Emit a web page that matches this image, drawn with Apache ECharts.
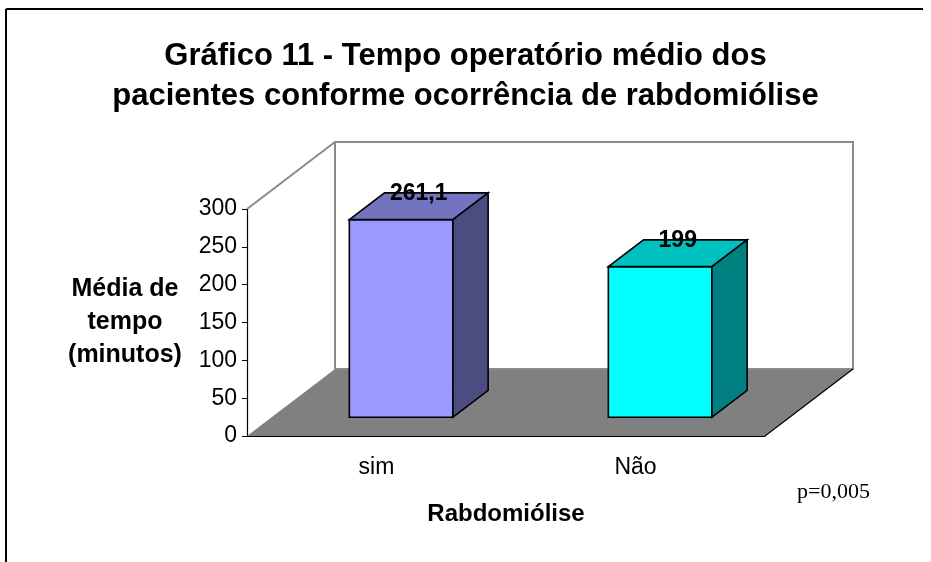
<!DOCTYPE html>
<html>
<head>
<meta charset="utf-8">
<script src="https://cdn.jsdelivr.net/npm/echarts@6/dist/echarts.min.js"></script>
<style>
  html, body { margin: 0; padding: 0; background: #fff; }
  #chart { width: 931px; height: 562px; }
</style>
</head>
<body>
<div id="chart"></div>
<script>
(function(){

  var categories = ['sim', 'Não'];
  var values = [261.1, 199];
  var valueLabels = ['261,1', '199'];
  var yMin = 0, yMax = 300, yStep = 50;

  var frontColors = ['#9999FF', '#00FFFF'];
  var topColors = ['#7373BF', '#00C0C0'];
  var sideColors = ['#4C4C80', '#008080'];

  // depth vector of the fake 3d box (pixels)
  var DX = 88, DY = -67;
  var FONT = 'Liberation Sans, Arial, sans-serif';

  var chart = echarts.init(document.getElementById('chart'));

  function renderWalls(params, api){
    var band = api.size([1, 0])[0];
    var p0 = api.coord([0, yMin]);
    var pTop = api.coord([0, yMax]);
    var l = p0[0] - band / 2, r = l + band * categories.length;
    var yb = p0[1], yt = pTop[1];
    var grey = '#8a8a8a';
    return {
      type: 'group',
      children: [
        { type: 'polygon', shape: { points: [[l, yb], [r, yb], [r + DX, yb + DY], [l + DX, yb + DY]] },
          style: { fill: '#808080', stroke: null } },
        { type: 'polygon', shape: { points: [[l + DX, yb + DY], [r + DX, yb + DY], [r + DX, yt + DY], [l + DX, yt + DY]] },
          style: { fill: 'none', stroke: grey, lineWidth: 2 } },
        { type: 'line', shape: { x1: l, y1: yt, x2: l + DX, y2: yt + DY },
          style: { stroke: grey, lineWidth: 2 } },
        { type: 'line', shape: { x1: r, y1: yb, x2: r + DX, y2: yb + DY },
          style: { stroke: '#000', lineWidth: 1.2 } }
      ]
    };
  }

  function renderBar(params, api){
    var i = api.value(0), v = api.value(1);
    var base = api.coord([i, 0]);
    var top = api.coord([i, v]);
    var bw = api.size([1, 0])[0] * 0.4;
    var f0 = 0.28, f1 = 0.68;
    var ox = DX * f0, oy = DY * f0;
    var bx = DX * (f1 - f0), by = DY * (f1 - f0);
    var x0 = base[0] - bw / 2 + ox, x1 = x0 + bw;
    var yb = base[1] + oy, yt = top[1] + oy;
    var st = { stroke: '#000', lineWidth: 1.6, lineJoin: 'miter' };
    return {
      type: 'group',
      children: [
        { type: 'polygon', shape: { points: [[x0, yt], [x1, yt], [x1, yb], [x0, yb]] },
          style: Object.assign({ fill: frontColors[i] }, st) },
        { type: 'polygon', shape: { points: [[x0, yt], [x0 + bx, yt + by], [x1 + bx, yt + by], [x1, yt]] },
          style: Object.assign({ fill: topColors[i] }, st) },
        { type: 'polygon', shape: { points: [[x1, yt], [x1 + bx, yt + by], [x1 + bx, yb + by], [x1, yb]] },
          style: Object.assign({ fill: sideColors[i] }, st) },
        { type: 'text', x: (x0 + x1 + bx) / 2, y: yt + by / 2 - 13,
          style: { text: valueLabels[i], fill: '#000', font: 'bold 23px ' + FONT,
                   align: 'center', verticalAlign: 'middle' } }
      ]
    };
  }

  var option = {
    animation: false,
    backgroundColor: '#fff',
    title: {
      text: 'Gráfico 11 - Tempo operatório médio dos\npacientes conforme ocorrência de rabdomiólise',
      left: 'center',
      top: 31,
      textStyle: { fontFamily: FONT, fontSize: 31, fontWeight: 'bold', color: '#000', lineHeight: 40 }
    },
    grid: { left: 247, top: 209, width: 518, height: 227 },
    xAxis: {
      type: 'category',
      data: categories,
      name: 'Rabdomiólise',
      nameLocation: 'middle',
      nameGap: 66,
      nameTextStyle: { fontFamily: FONT, fontSize: 24, fontWeight: 'bold', color: '#000' },
      axisLine: { lineStyle: { color: '#000', width: 1.2 } },
      axisTick: { length: 6, lineStyle: { color: '#000' } },
      axisLabel: { fontFamily: FONT, fontSize: 23, color: '#000', margin: 20 }
    },
    yAxis: {
      type: 'value',
      min: yMin, max: yMax, interval: yStep,
      name: 'Média de\ntempo\n(minutos)',
      nameLocation: 'middle',
      nameRotate: 0,
      nameGap: 122,
      nameTextStyle: { fontFamily: FONT, fontSize: 25, fontWeight: 'bold', color: '#000',
                       lineHeight: 33, align: 'center', verticalAlign: 'middle' },
      axisLine: { show: true, lineStyle: { color: '#000', width: 1.2 } },
      axisTick: { show: true, length: 5, lineStyle: { color: '#000' } },
      axisLabel: { fontFamily: FONT, fontSize: 23, color: '#000', margin: 10 },
      splitLine: { show: false }
    },
    graphic: [
      { type: 'line', shape: { x1: 6, y1: 9, x2: 923, y2: 9 }, style: { stroke: '#000', lineWidth: 2 } },
      { type: 'line', shape: { x1: 6, y1: 9, x2: 6, y2: 562 }, style: { stroke: '#000', lineWidth: 2 } },
      { type: 'text', left: 797, top: 481,
        style: { text: 'p=0,005', font: '22px Liberation Serif, Times New Roman, serif', fill: '#000' } }
    ],
    series: [
      { type: 'custom', z: 1, clip: false, renderItem: renderWalls, data: [[0, 0]], silent: true },
      { type: 'custom', z: 2, clip: false, renderItem: renderBar,
        data: values.map(function(v, i){ return [i, v]; }) }
    ]
  };

  chart.setOption(option);

})();
</script>
</body>
</html>
